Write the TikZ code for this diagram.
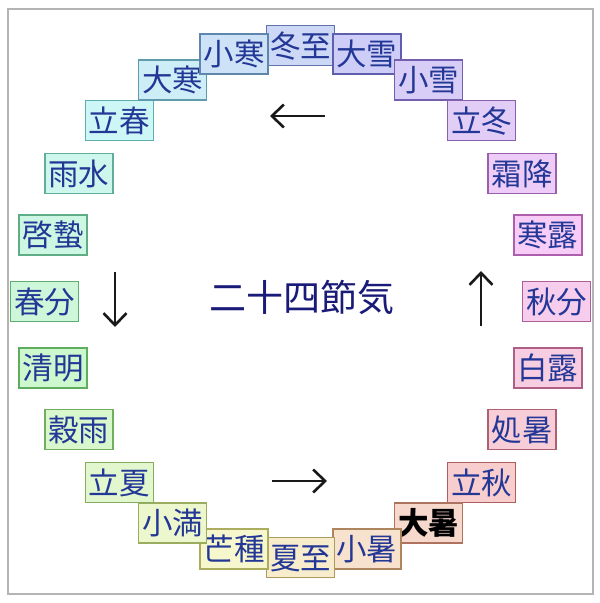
\PassOptionsToPackage{rgb}{xcolor}
\documentclass[tikz,border=0pt]{standalone}
\usepackage{fontspec}
\newfontfamily\cjk{Noto Sans CJK JP}
\usetikzlibrary{arrows.meta}
\definecolor{navytext}{RGB}{35,55,150}
\definecolor{titletext}{RGB}{26,26,120}
\definecolor{framegrey}{RGB}{180,180,180}
\definecolor{arrowgrey}{RGB}{25,25,25}
\begin{document}
\begin{tikzpicture}[x=1pt,y=-1pt,
  term/.style={rectangle, minimum width=68pt, minimum height=40pt, inner sep=0pt,
    line width=1.8pt, text=navytext, font=\cjk\fontsize{30.5}{33}\selectfont,
    text height=26.8pt, text depth=3.7pt},
  titlebox/.style={inner sep=0pt, text=titletext, font=\cjk\fontsize{37}{40}\selectfont},
  frame/.style={draw=framegrey, line width=2pt},
  turn/.style={draw=arrowgrey, line width=2.6pt, -{Straight Barb[length=12pt,width=23pt]}}]
\useasboundingbox (0,0) rectangle (600,603);
\draw[frame] (7.5,8.5) rectangle (592.5,593.5);
\foreach \lbl [count=\k from 0] in {冬至,大雪,小雪,立冬,霜降,寒露,秋分,白露,処暑,立秋,{\bfseries\color{black}大暑},小暑,夏至,芒種,小満,立夏,穀雨,清明,春分,啓蟄,雨水,立春,大寒,小寒}{
  \pgfmathtruncatemacro\hue{mod(225+15*\k,360)}
  \definecolor{tmpf}{Hsb}{\hue,0.17,0.97}
  \definecolor{tmpe}{Hsb}{\hue,0.45,0.68}
  \colorlet{fillc}[rgb]{tmpf}
  \colorlet{edgec}[rgb]{tmpe}
  \node[term, fill=fillc, draw=edgec] (n\k) at ({300.5+256*cos(90-15*\k)}, {301.5-256*sin(90-15*\k)}) {\lbl};
}
\node[titlebox] (title) at (302,297) {二十四節気};
\coordinate (topA) at (325,116);
\coordinate (topB) at (270,116);
\coordinate (botA) at (272,481);
\coordinate (botB) at (327,481);
\coordinate (leftA) at (115,272);
\coordinate (leftB) at (115,327);
\coordinate (rightA) at (481,326);
\coordinate (rightB) at (481,271);
\draw[turn] (topA) -- (topB);
\draw[turn] (botA) -- (botB);
\draw[turn] (leftA) -- (leftB);
\draw[turn] (rightA) -- (rightB);
\end{tikzpicture}
\end{document}
